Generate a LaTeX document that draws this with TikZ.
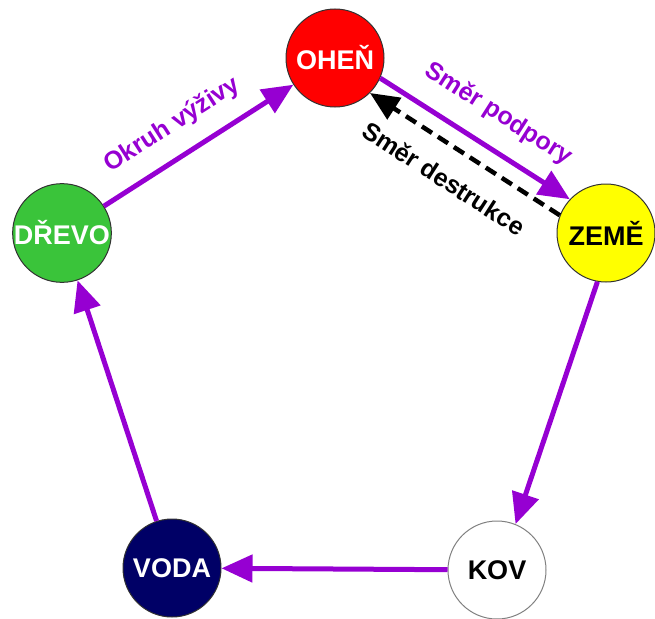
\documentclass[tikz,border=0pt]{standalone}
\usepackage{fontspec}
\setmainfont{Liberation Sans}
\usetikzlibrary{arrows.meta,positioning}
\definecolor{fialova}{RGB}{150,0,210}
\definecolor{ohen}{RGB}{255,0,0}
\definecolor{drevo}{RGB}{58,196,58}
\definecolor{zeme}{RGB}{255,255,0}
\definecolor{voda}{RGB}{0,0,102}
\definecolor{obrys}{RGB}{50,50,50}

\begin{document}
\begin{tikzpicture}[x=1pt, y=-1pt,
  prvek/.style={circle, draw=obrys, line width=1pt, minimum size=98pt, inner sep=0pt,
                font=\fontsize{27}{32}\selectfont\bfseries},
  arr/.style={-{Triangle[length=31pt, width=27pt]}, line width=5pt, fialova},
  carr/.style={-{Triangle[length=29pt, width=25pt]}, line width=4.5pt, black,
               dash pattern=on 12pt off 7pt},
  popis/.style={font=\fontsize{25}{30}\selectfont\bfseries, inner sep=0pt}
]
  \useasboundingbox (0,0) rectangle (655,618);
  \node[prvek, fill=ohen, text=white] (o) at (335,58) {OHEŇ};
  \node[prvek, fill=zeme] (z) at (606,233) {ZEMĚ};
  \node[prvek, fill=white, draw=gray] (k) at (497,570) {KOV};
  \node[prvek, fill=voda, text=white] (v) at (172,568) {VODA};
  \node[prvek, fill=drevo, text=white] (d) at (62,233) {DŘEVO};
  \draw[arr] (d) -- node[popis, pos=0.45, sloped, above=17pt, fialova] {Okruh výživy} (o);
  \draw[arr] (o.-24) -- node[popis, pos=0.53, sloped, above=19pt, fialova] {Směr podpory} (z.137.6);
  \draw[carr] (z.159.5) -- node[popis, pos=0.52, sloped, below=20pt] {Směr destrukce} (o.-45.9);
  \draw[arr] (z.-100) -- (k.68);
  \draw[arr] (k) -- (v);
  \draw[arr] (v) -- (d);
\end{tikzpicture}
\end{document}
